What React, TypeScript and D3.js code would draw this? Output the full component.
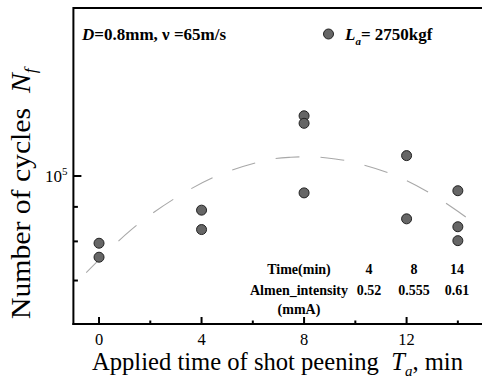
import React, { useEffect, useRef } from 'react';
import * as d3 from 'd3';

// measured points (shot peening time, fatigue cycles)
const times = [0, 0, 4, 4, 8, 8, 8, 12, 12, 14, 14, 14];
const cycles = [79500, 75800, 89000, 83300, 122800, 119700, 94400, 107200, 86400, 95100, 84100, 80200];

// dashed trend curve
const fitTimes = [-0.5, 1.25, 3.03, 4.81, 6.56, 7.48, 8.32, 9.22, 10.09, 11.87, 13.64, 14.54];
const fitCycles = [71900, 83200, 93000, 100800, 105600, 106600, 106800, 106000, 104400, 99000, 90600, 85600];

const xMajor = [0, 4, 8, 12];
const xMinor = [2, 6, 10, 14];
const yMajor = [100000];
const yMinor = [70000, 80000, 90000];

const tableTime = ['Time(min)', '4', '8', '14'];
const tableIntensity = ['Almen_intensity', '0.52', '0.555', '0.61'];
const tableUnit = '(mmA)';

const W = 482, H = 388;
const serif = 'Liberation Serif, DejaVu Serif, serif';

function App() {
  const svgRef = useRef<SVGSVGElement>(null);

  useEffect(() => {
    const svg = d3.select(svgRef.current);
    svg.selectAll('*').remove();

    const left = 73.4, top = 8, bottom = 324;
    const x = d3.scaleLinear().domain([-1, 15]).range([left, left + 16 * 25.63]);
    const y = d3.scaleLog().domain([60350, 177400]).range([bottom, top]);

    const g = svg.append('g').style('font-family', serif);

    // fit curve
    const fitLine = d3.line<number>()
      .x((d, i) => x(fitTimes[i]))
      .y((d) => y(d))
      .curve(d3.curveNatural);
    g.append('path')
      .attr('d', fitLine(fitCycles))
      .attr('fill', 'none')
      .attr('stroke', '#a8a8a8')
      .attr('stroke-width', 1.1)
      .attr('stroke-dasharray', '24 21');

    // frame
    g.append('line').attr('x1', left).attr('x2', W).attr('y1', top).attr('y2', top)
      .attr('stroke', '#000').attr('stroke-width', 2);
    g.append('line').attr('x1', left).attr('x2', left).attr('y1', top - 1).attr('y2', bottom + 1)
      .attr('stroke', '#000').attr('stroke-width', 2);
    g.append('line').attr('x1', left - 1).attr('x2', W).attr('y1', bottom).attr('y2', bottom)
      .attr('stroke', '#000').attr('stroke-width', 2);

    // x ticks (inward)
    g.selectAll('.xmaj').data(xMajor).enter().append('line')
      .attr('x1', d => x(d)).attr('x2', d => x(d))
      .attr('y1', bottom).attr('y2', bottom - 7)
      .attr('stroke', '#000').attr('stroke-width', 2);
    g.selectAll('.xmin').data(xMinor).enter().append('line')
      .attr('x1', d => x(d)).attr('x2', d => x(d))
      .attr('y1', bottom).attr('y2', bottom - 3.5)
      .attr('stroke', '#000').attr('stroke-width', 2);
    g.selectAll('.xlab').data(xMajor).enter().append('text')
      .attr('x', d => x(d)).attr('y', 345)
      .attr('text-anchor', 'middle')
      .attr('font-size', 16.5)
      .text(d => d);

    // y ticks (inward)
    g.selectAll('.ymaj').data(yMajor).enter().append('line')
      .attr('x1', left).attr('x2', left + 8)
      .attr('y1', d => y(d)).attr('y2', d => y(d))
      .attr('stroke', '#000').attr('stroke-width', 2);
    g.selectAll('.ymin').data(yMinor).enter().append('line')
      .attr('x1', left).attr('x2', left + 4.5)
      .attr('y1', d => y(d)).attr('y2', d => y(d))
      .attr('stroke', '#000').attr('stroke-width', 2);
    const yl = g.selectAll('.ylab').data(yMajor).enter().append('text')
      .attr('x', left - 6).attr('y', d => y(d) + 6)
      .attr('text-anchor', 'end')
      .attr('font-size', 17);
    yl.append('tspan').text('10');
    yl.append('tspan').attr('font-size', 11).attr('dy', -7).text('5');

    // points
    g.selectAll('circle.pt').data(cycles).enter().append('circle')
      .attr('class', 'pt')
      .attr('cx', (d, i) => x(times[i]))
      .attr('cy', d => y(d))
      .attr('r', 5)
      .attr('fill', '#666')
      .attr('stroke', '#222')
      .attr('stroke-width', 1);

    // annotation
    const ann = g.append('text').attr('x', 82).attr('y', 40)
      .attr('font-size', 17).attr('font-weight', 'bold');
    ann.append('tspan').attr('font-style', 'italic').text('D');
    ann.append('tspan').text('=0.8mm, \u03BD =65m/s');

    // legend
    g.append('circle').attr('cx', 328.5).attr('cy', 34).attr('r', 5)
      .attr('fill', '#666').attr('stroke', '#222').attr('stroke-width', 1);
    const leg = g.append('text').attr('x', 345).attr('y', 40)
      .attr('font-size', 17).attr('font-weight', 'bold');
    leg.append('tspan').attr('font-style', 'italic').text('L');
    leg.append('tspan').attr('font-style', 'italic').attr('font-size', 11).attr('dy', 5).text('a');
    leg.append('tspan').attr('dy', -5).text('= 2750kgf');

    // table
    const colX = [299, 369, 414, 457];
    g.selectAll('.trow1').data(tableTime).enter().append('text')
      .attr('x', (d, i) => colX[i]).attr('y', 274)
      .attr('text-anchor', 'middle')
      .attr('font-size', 14).attr('font-weight', 'bold')
      .text(d => d);
    g.selectAll('.trow2').data(tableIntensity).enter().append('text')
      .attr('x', (d, i) => colX[i]).attr('y', 295)
      .attr('text-anchor', 'middle')
      .attr('font-size', 14).attr('font-weight', 'bold')
      .text(d => d);
    g.append('text').attr('x', colX[0]).attr('y', 314)
      .attr('text-anchor', 'middle')
      .attr('font-size', 14).attr('font-weight', 'bold')
      .text(tableUnit);

    // axis titles
    const xt = g.append('text').attr('x', 92).attr('y', 370)
      .attr('font-size', 24.6);
    xt.append('tspan').text('Applied time of shot peening\u00A0\u00A0');
    xt.append('tspan').attr('font-style', 'italic').text('T');
    xt.append('tspan').attr('font-style', 'italic').attr('font-size', 15).attr('dy', 6).text('a');
    xt.append('tspan').attr('dy', -6).text(', min');

    const yt = g.append('text')
      .attr('transform', 'translate(30,319) rotate(-90) scale(1.1,1)')
      .attr('font-size', 27);
    yt.append('tspan').text('Number of cycles\u00A0\u00A0');
    yt.append('tspan').attr('font-style', 'italic').text('N');
    yt.append('tspan').attr('font-style', 'italic').attr('font-size', 16).attr('dy', 6).text('f');
  }, []);

  return (
    <div style={{ position: 'absolute', left: 0, top: 0, background: '#fff' }}>
      <svg ref={svgRef} width={W} height={H} style={{ display: 'block' }}></svg>
    </div>
  );
}

export default App;
